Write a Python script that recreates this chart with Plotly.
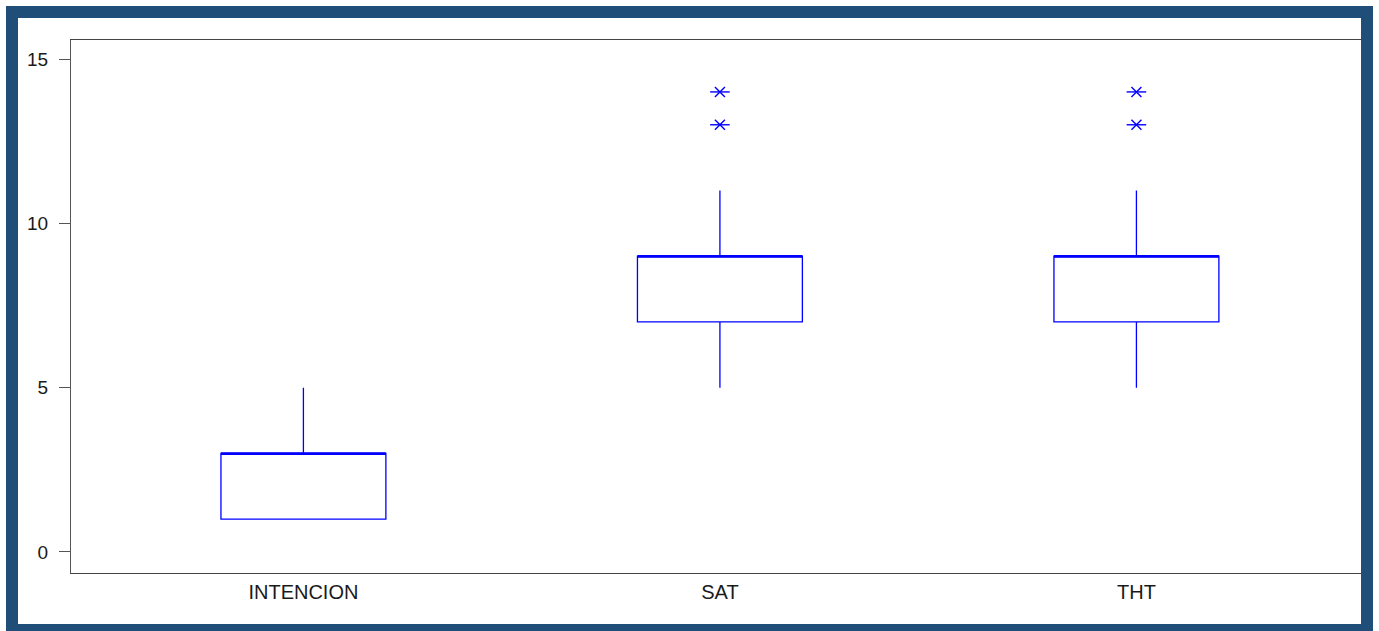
import plotly.graph_objects as go

# Summary statistics per variable
categories = ["INTENCION", "SAT", "THT"]
q1 = [1, 7, 7]
median = [3, 9, 9]
q3 = [3, 9, 9]
lower_fence = [1, 5, 5]
upper_fence = [5, 11, 11]
outliers = [[], [13, 14], [13, 14]]

y_ticks = [0, 5, 10, 15]

BLUE = "#0000ff"
FRAME = "#1f4e79"
BOX_W = 0.396
FONT = "Liberation Sans, Arial, sans-serif"

W, H = 1379, 631
ML, MR, MT, MB = 71, 11, 40, 58
PW, PH = W - ML - MR, H - MT - MB

fig = go.Figure()

xs = list(range(len(categories)))
for i, name in enumerate(categories):
    fig.add_trace(go.Box(
        x=[i], q1=[q1[i]], median=[median[i]], q3=[q3[i]],
        lowerfence=[lower_fence[i]], upperfence=[upper_fence[i]],
        width=BOX_W, whiskerwidth=0, boxpoints=False,
        fillcolor="rgba(0,0,0,0)", line=dict(color=BLUE, width=1.3),
        name=name, showlegend=False, hoverinfo="skip",
    ))
    # heavier median stroke
    fig.add_trace(go.Scatter(
        x=[i - BOX_W / 2, i + BOX_W / 2], y=[median[i], median[i]],
        mode="lines", line=dict(color=BLUE, width=2.2),
        showlegend=False, hoverinfo="skip",
    ))
    if outliers[i]:
        # six-point star: a horizontal bar crossed by an X
        for sym, size in (("line-ew-open", 14), ("x-thin-open", 10)):
            fig.add_trace(go.Scatter(
                x=[i] * len(outliers[i]), y=outliers[i], mode="markers",
                marker=dict(symbol=sym, size=size, color=BLUE,
                            line=dict(color=BLUE, width=1.4)),
                showlegend=False, hoverinfo="skip",
            ))


def px_x(p):
    return (p - ML) / PW


def px_y(p):
    return 1 - (p - MT) / PH


# dark frame around the figure
fig.add_shape(type="rect", xref="paper", yref="paper",
              x0=px_x(12), x1=px_x(1367), y0=px_y(12), y1=px_y(630),
              line=dict(color=FRAME, width=12), fillcolor="rgba(0,0,0,0)",
              layer="above")

fig.update_layout(
    width=W, height=H,
    margin=dict(l=ML, r=MR, t=MT, b=MB, pad=0),
    paper_bgcolor="white", plot_bgcolor="white",
    font=dict(family=FONT, color="#1a1a1a"),
    xaxis=dict(
        range=[-0.558, 2.556], tickvals=xs, ticktext=categories,
        showgrid=False, zeroline=False, showline=True, mirror=True,
        linecolor="#444444", linewidth=1.2, ticks="",
        tickfont=dict(size=20, family=FONT, color="#1a1a1a"),
        ticklabelstandoff=1,
    ),
    yaxis=dict(
        range=[-0.64, 15.58], tickvals=y_ticks,
        showgrid=False, zeroline=False, showline=True,
        linecolor="#555555", linewidth=1.2,
        ticks="outside", ticklen=11, tickcolor="#555555", tickwidth=1.2,
        tickfont=dict(size=19, family=FONT, color="#1a1a1a"),
        ticklabelstandoff=7,
    ),
)

fig.write_html("out.html")
